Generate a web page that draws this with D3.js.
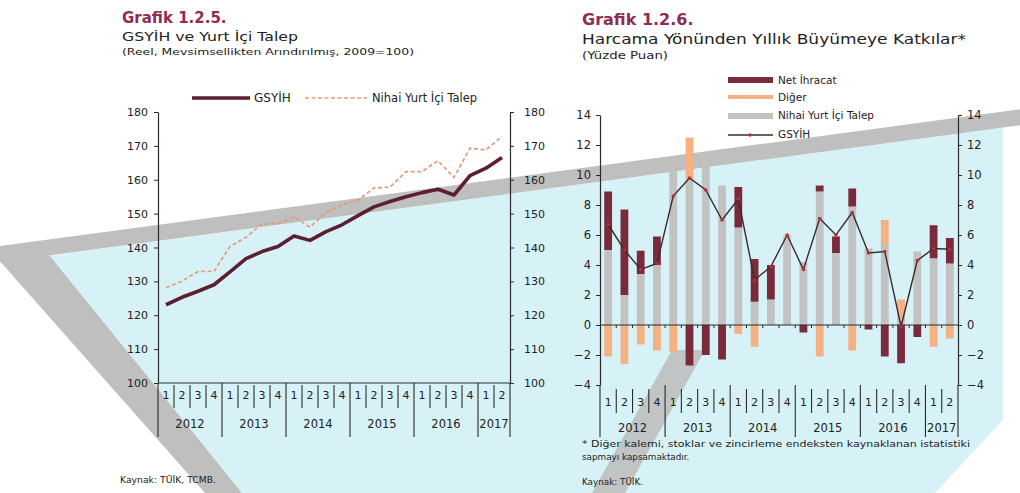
<!DOCTYPE html>
<html><head><meta charset="utf-8">
<script src="https://cdn.jsdelivr.net/npm/d3@7"></script>
<style>body{margin:0;background:#fff} svg{display:block} text{font-family:"DejaVu Sans",sans-serif}</style>
</head><body><svg id="c" width="1020" height="493"></svg>
<script>
// ---------- DATA ----------
const quarters = ["1","2","3","4","1","2","3","4","1","2","3","4","1","2","3","4","1","2","3","4","1","2"];
const years = ["2012","2013","2014","2015","2016","2017"];
const yearQuarterCounts = [4,4,4,4,4,2];

// Grafik 1.2.5 (index, 2009=100)
const gsyihEndeks = [123.1,125.3,127.1,129.0,132.8,136.7,138.8,140.3,143.4,142.1,144.7,146.7,149.4,152.0,153.6,155.0,156.2,157.2,155.5,161.2,163.4,166.6];
const nihaiEndeks = [128.1,130.1,132.9,133.0,140.3,143.0,147.0,147.0,149.0,146.0,150.4,152.6,154.0,157.6,157.8,162.4,162.4,165.6,160.7,169.3,168.8,172.8];
const leftTicks = [100,110,120,130,140,150,160,170,180];

// Grafik 1.2.6 (contributions, percentage points)
const netIhracat = [3.9,5.7,1.55,1.9,0,-2.7,-2.0,-2.3,2.7,2.85,2.3,0,-0.5,0.4,1.1,1.2,-0.3,-2.1,-2.55,-0.8,2.2,1.7];
const diger      = [-2.1,-2.6,-1.3,-1.7,-1.8,2.8,0,0,-0.6,-1.45,0,0.1,0,-2.1,0,-1.7,0,1.6,1.2,0,-1.45,-0.9];
const nihaiKatki = [5.0,2.0,3.4,4.0,10.3,9.7,10.9,9.3,6.5,1.55,1.7,5.9,4.2,8.9,4.8,7.9,5.1,5.4,0.5,4.9,4.45,4.1];
const gsyihBuyume = [6.7,5.0,3.7,4.1,8.6,9.8,9.0,7.0,8.4,3.0,3.9,6.0,3.7,7.1,6.0,7.5,4.8,4.9,-0.1,4.3,5.1,5.05];
const rightTicks = [-4,-2,0,2,4,6,8,10,12,14];

// ---------- COLOURS ----------
const C = {
  title:"#8e2c55", text:"#222", axis:"#2a2a2a",
  gdpThick:"#5c1f31", dashed:"#e59a7c",
  net:"#7a2b3b", other:"#f4b183", dom:"#c2c2c2", gdpLine:"#3b2b2f", marker:"#b3303f",
  cyan:"#d6f2f6", band:"#bfbfbf"
};

const svg = d3.select("#c");
svg.append("rect").attr("width",1020).attr("height",493).attr("fill","#fff");

// ---------- BACKGROUND DECORATION ----------
const deco = svg.append("g");
const bandTop = x => 246 - 0.134*x, bandBot = x => 262 - 0.134*x;
deco.append("path").attr("fill",C.cyan)
  .attr("d",`M40,257 L1003,${bandBot(1003)} L1003,420 L935,493 L242,493 Z`);
deco.append("path").attr("fill",C.band)
  .attr("d","M-10,250 L45,250 L242,493 L205,493 Z");
deco.append("path").attr("fill",C.band)
  .attr("d",`M0,${bandTop(0)} L1020,${bandTop(1020)} L1020,${bandBot(1020)} L0,${bandBot(0)} Z`);
deco.append("path").attr("fill",C.band).attr("opacity",0.9)
  .attr("d","M672,350 L705,350 L625,493 L592,493 Z");

// ---------- HELPERS ----------
function catAxis(g, xs, opt){
  const step = xs.step(), x0 = xs.range()[0];
  const bx = k => x0 + k*step;
  if (opt.line) g.append("line").attr("x1",xs.range()[0]).attr("x2",xs.range()[1])
      .attr("y1",opt.yLine).attr("y2",opt.yLine).attr("stroke",C.axis).attr("stroke-width",1.2);
  for (let k=0;k<=quarters.length;k++){
    const isYear = (k%4===0) || k===quarters.length;
    g.append("line").attr("x1",bx(k)).attr("x2",bx(k))
      .attr("y1", isYear ? opt.yLine : opt.qTop).attr("y2", isYear ? opt.yearBot : opt.qBot)
      .attr("stroke",C.axis).attr("stroke-width",1.1);
  }
  quarters.forEach((q,i)=> g.append("text").attr("x",xs(i)+step/2).attr("y",opt.qLab)
    .attr("text-anchor","middle").attr("font-size",11).attr("fill",C.text).text(q));
  let s=0;
  years.forEach((yr,j)=>{
    const n=yearQuarterCounts[j];
    g.append("text").attr("x",bx(s+n/2)).attr("y",opt.yrLab).attr("text-anchor","middle")
      .attr("font-size",11.5).attr("fill",C.text).text(yr);
    s+=n;
  });
}
function styleAxis(g){
  g.select(".domain").attr("stroke",C.axis).attr("stroke-width",1.2);
  g.selectAll(".tick line").attr("stroke",C.axis);
  g.selectAll(".tick text").attr("font-family","DejaVu Sans").attr("font-size",11).attr("fill",C.text);
}

// ---------- LEFT CHART ----------
const xL = d3.scaleBand().domain(d3.range(quarters.length)).range([158,510]).padding(0);
const yL = d3.scaleLinear().domain([100,180]).range([383,112]);
const gL = svg.append("g");

const lineL = d3.line().x((d,i)=>xL(i)+xL.bandwidth()/2).y(d=>yL(d));
gL.append("path").datum(nihaiEndeks).attr("d",lineL).attr("fill","none")
  .attr("stroke",C.dashed).attr("stroke-width",1.7).attr("stroke-dasharray","4,2.5");
gL.append("path").datum(gsyihEndeks).attr("d",lineL).attr("fill","none")
  .attr("stroke",C.gdpThick).attr("stroke-width",3.6).attr("stroke-linejoin","round");

const axL = gL.append("g").attr("transform","translate(158,0)")
  .call(d3.axisLeft(yL).tickValues(leftTicks).tickSize(4).tickSizeOuter(0).tickPadding(6));
styleAxis(axL);
const axL2 = gL.append("g").attr("transform","translate(510,0)")
  .call(d3.axisRight(yL).tickValues(leftTicks).tickSize(4).tickSizeOuter(0).tickPadding(10));
styleAxis(axL2);
catAxis(gL, xL, {line:true, yLine:383, qTop:385, qBot:408, yearBot:437, qLab:399, yrLab:428});

// legend left
gL.append("line").attr("x1",192).attr("x2",250).attr("y1",98).attr("y2",98)
  .attr("stroke",C.gdpThick).attr("stroke-width",3.6);
gL.append("text").attr("x",254).attr("y",102).attr("font-size",12).attr("fill",C.text).text("GSYİH");
gL.append("line").attr("x1",305).attr("x2",367).attr("y1",98).attr("y2",98)
  .attr("stroke",C.dashed).attr("stroke-width",1.7).attr("stroke-dasharray","4,2.5");
gL.append("text").attr("x",372).attr("y",102).attr("font-size",11.5).attr("fill",C.text).text("Nihai Yurt İçi Talep");

// titles left
svg.append("text").attr("x",122).attr("y",23).attr("font-size",15).attr("font-weight","bold")
  .attr("fill",C.title).text("Grafik 1.2.5.");
svg.append("text").attr("x",122).attr("y",41).attr("font-size",13).attr("fill",C.text)
  .attr("textLength",176).attr("lengthAdjust","spacingAndGlyphs").text("GSYİH ve Yurt İçi Talep");
svg.append("text").attr("x",122).attr("y",55).attr("font-size",9.5).attr("fill",C.text)
  .attr("textLength",292).attr("lengthAdjust","spacingAndGlyphs").text("(Reel, Mevsimsellikten Arındırılmış, 2009=100)");
svg.append("text").attr("x",120).attr("y",483).attr("font-size",8.5).attr("fill",C.text)
  .attr("textLength",96).attr("lengthAdjust","spacingAndGlyphs").text("Kaynak: TÜİK, TCMB.");

// ---------- RIGHT CHART ----------
const xR = d3.scaleBand().domain(d3.range(quarters.length)).range([600,958]).padding(0);
const xRb = d3.scaleBand().domain(d3.range(quarters.length)).range([600,958]).paddingInner(0.52).paddingOuter(0.26);
const yR = d3.scaleLinear().domain([-4,14]).range([385,115]);
const gR = svg.append("g");

const rows = quarters.map((q,i)=>({i, nihai:nihaiKatki[i], diger:diger[i], net:netIhracat[i]}));
const keys = ["nihai","diger","net"];
const colorOf = {nihai:C.dom, diger:C.other, net:C.net};
const stacked = d3.stack().keys(keys).offset(d3.stackOffsetDiverging)(rows);
stacked.forEach(layer=>{
  gR.append("g").attr("fill",colorOf[layer.key]).selectAll("rect").data(layer).join("rect")
    .attr("x",d=>xRb(d.data.i)).attr("width",xRb.bandwidth())
    .attr("y",d=>yR(Math.max(d[0],d[1]))).attr("height",d=>Math.abs(yR(d[0])-yR(d[1])));
});

// zero line with small ticks
gR.append("line").attr("x1",600).attr("x2",958).attr("y1",yR(0)).attr("y2",yR(0))
  .attr("stroke",C.axis).attr("stroke-width",1.2);
d3.range(1,quarters.length).forEach(k=>{
  const x = xR.range()[0]+k*xR.step();
  gR.append("line").attr("x1",x).attr("x2",x).attr("y1",yR(0)).attr("y2",yR(0)+3)
    .attr("stroke",C.axis).attr("stroke-width",1);
});

const lineR = d3.line().x((d,i)=>xR(i)+xR.bandwidth()/2).y(d=>yR(d));
gR.append("path").datum(gsyihBuyume).attr("d",lineR).attr("fill","none")
  .attr("stroke",C.gdpLine).attr("stroke-width",1.4);
gR.selectAll("circle.m").data(gsyihBuyume).join("circle").attr("class","m")
  .attr("cx",(d,i)=>xR(i)+xR.bandwidth()/2).attr("cy",d=>yR(d)).attr("r",1.8).attr("fill",C.marker);

const axR = gR.append("g").attr("transform","translate(600,0)")
  .call(d3.axisLeft(yR).tickValues(rightTicks).tickSize(4).tickSizeOuter(0).tickPadding(5));
styleAxis(axR);
axR.selectAll(".tick text").attr("font-size",11.5);
const axR2 = gR.append("g").attr("transform","translate(958,0)")
  .call(d3.axisRight(yR).tickValues(rightTicks).tickSize(4).tickSizeOuter(0).tickPadding(5));
styleAxis(axR2);
axR2.selectAll(".tick text").attr("font-size",11.5);
catAxis(gR, xR, {line:false, yLine:385, qTop:389, qBot:413, yearBot:437, qLab:406, yrLab:432});

// legend right
const lg = gR.append("g");
lg.append("rect").attr("x",728).attr("y",77).attr("width",45).attr("height",6).attr("fill",C.net);
lg.append("rect").attr("x",728).attr("y",95).attr("width",45).attr("height",4).attr("fill",C.other);
lg.append("rect").attr("x",728).attr("y",113).attr("width",45).attr("height",6).attr("fill",C.dom);
lg.append("line").attr("x1",728).attr("x2",773).attr("y1",135).attr("y2",135).attr("stroke",C.gdpLine).attr("stroke-width",1.4);
lg.append("circle").attr("cx",750).attr("cy",135).attr("r",1.8).attr("fill",C.marker);
[["Net İhracat",84],["Diğer",101],["Nihai Yurt İçi Talep",119],["GSYİH",138]].forEach(([t,y])=>
  lg.append("text").attr("x",778).attr("y",y).attr("font-size",10.5).attr("fill",C.text).text(t));

// titles right
svg.append("text").attr("x",582).attr("y",25).attr("font-size",16).attr("font-weight","bold")
  .attr("fill",C.title).text("Grafik 1.2.6.");
svg.append("text").attr("x",582).attr("y",44).attr("font-size",14.5).attr("fill",C.text)
  .attr("textLength",384).attr("lengthAdjust","spacingAndGlyphs").text("Harcama Yönünden Yıllık Büyümeye Katkılar*");
svg.append("text").attr("x",582).attr("y",59).attr("font-size",10.5).attr("fill",C.text)
  .attr("textLength",86).attr("lengthAdjust","spacingAndGlyphs").text("(Yüzde Puan)");
svg.append("text").attr("x",582).attr("y",447).attr("font-size",8.8).attr("fill",C.text)
  .attr("textLength",388).attr("lengthAdjust","spacingAndGlyphs")
  .text("*  Diğer kalemi, stoklar ve zincirleme endeksten kaynaklanan istatistiki");
svg.append("text").attr("x",582).attr("y",460).attr("font-size",8.8).attr("fill",C.text)
  .text("sapmayı kapsamaktadır.");
svg.append("text").attr("x",582).attr("y",485).attr("font-size",8.8).attr("fill",C.text)
  .text("Kaynak: TÜİK.");
</script></body></html>
